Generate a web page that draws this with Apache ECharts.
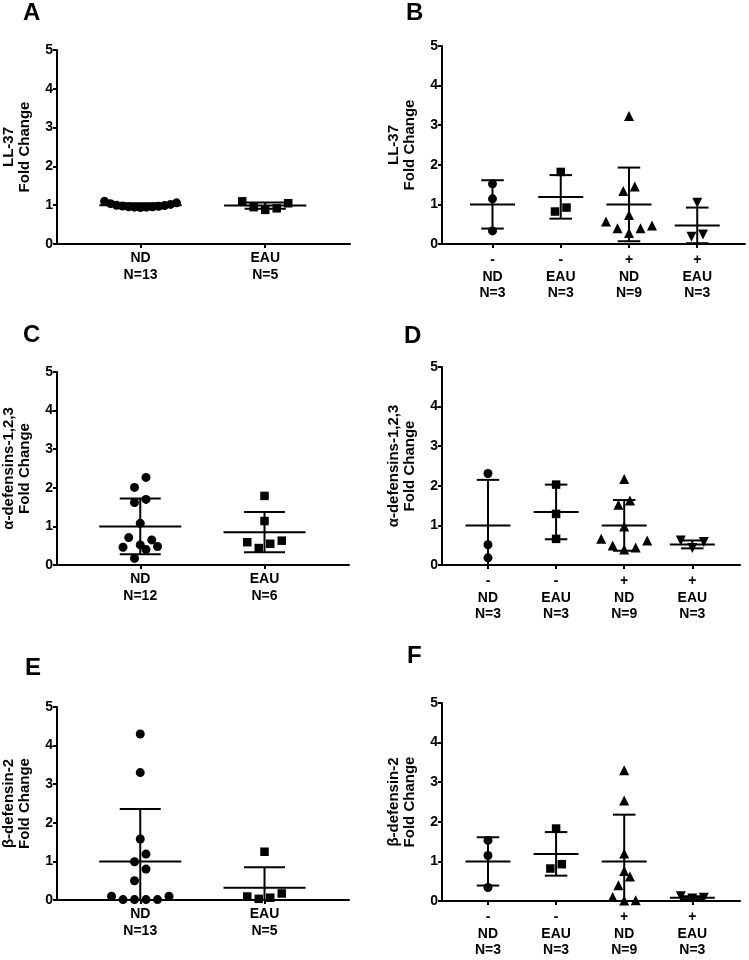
<!DOCTYPE html>
<html>
<head>
<meta charset="utf-8">
<script src="https://cdn.jsdelivr.net/npm/echarts@6/dist/echarts.min.js"></script>
<style>
html,body{margin:0;padding:0;background:#fff;}
#chart{width:749px;height:960px;}
</style>
</head>
<body>
<div id="chart"></div>
<script>
// ---------- DATA ----------
const labels2A = ['ND\nN=13', 'EAU\nN=5'];
const labels2C = ['ND\nN=12', 'EAU\nN=6'];
const labels2E = ['ND\nN=13', 'EAU\nN=5'];
const labels4 = ['-\nND\nN=3', '-\nEAU\nN=3', '+\nND\nN=9', '+\nEAU\nN=3'];

const titleA = 'LL-37\nFold Change';
const titleC = 'α-defensins-1,2,3\nFold Change';
const titleE = 'β-defensin-2\nFold Change';

// Panel A
const A_ND = [0.94, 0.95, 0.95, 0.96, 0.96, 0.97, 0.98, 0.99, 1.00, 1.02, 1.04, 1.06, 1.10];
const A_EAU = [1.10, 0.95, 0.88, 0.92, 1.05];
const A_mean = [1.00, 0.99];
const A_sd = [0.05, 0.08];

// Panel B
const B_NDneg = [1.52, 1.14, 0.33];
const B_EAUneg = [1.82, 0.82, 0.92];
const B_NDpos = [3.23, 1.45, 1.34, 0.73, 0.57, 0.40, 0.28, 0.40, 0.47];
const B_EAUpos = [1.04, 0.18, 0.24];
const B_mean = [1.00, 1.19, 1.00, 0.47];
const B_sd = [0.61, 0.55, 0.93, 0.45];

// Panel C
const C_ND = [2.27, 2.01, 1.70, 1.62, 1.08, 0.71, 0.46, 0.52, 0.48, 0.40, 0.65, 0.17];
const C_EAU = [1.79, 1.14, 0.59, 0.44, 0.55, 0.63];
const C_mean = [1.00, 0.85];
const C_sd = [0.72, 0.52];

// Panel D
const D_NDneg = [2.31, 0.51, 0.18];
const D_EAUneg = [2.03, 1.29, 0.66];
const D_NDpos = [2.17, 1.63, 1.52, 0.97, 0.66, 0.49, 0.39, 0.44, 0.62];
const D_EAUpos = [0.62, 0.43, 0.58];
const D_mean = [1.00, 1.34, 1.00, 0.52];
const D_sd = [1.15, 0.69, 0.64, 0.10];

// Panel E
const E_ND = [4.30, 3.30, 1.58, 1.19, 0.99, 0.80, 0.50, 0.10, 0.01, 0.01, 0.01, 0.01, 0.10];
const E_EAU = [1.25, 0.09, 0.03, 0.06, 0.17];
const E_mean = [1.00, 0.32];
const E_sd = [1.36, 0.53];

// Panel F
const F_NDneg = [1.53, 1.15, 0.34];
const F_EAUneg = [1.83, 0.82, 0.93];
const F_NDpos = [3.30, 2.54, 1.20, 0.76, 0.62, 0.40, 0.10, 0.01, 0.02];
const F_EAUpos = [0.12, 0.06, 0.08];
const F_mean = [1.00, 1.19, 1.00, 0.08];
const F_sd = [0.61, 0.55, 1.18, 0.04];

const yTicks = [0, 1, 2, 3, 4, 5];

// ---------- LAYOUT / STYLE ----------
const FONT = '"Liberation Sans", Arial, Helvetica, sans-serif';
const SYM2 = [['circle', 9, 0], ['rect', 8.5, 0]];
const SYM4 = [['circle', 9, 0], ['rect', 8.5, 0], ['triangle', 10, 0], ['triangle', 10, 180]];

const panels = [
  { letter: 'A', lx: 23, ly: 1,   grid: {left: 57,  top: 50,  width: 293, height: 194}, xmin: 0.33,  xmax: 2.68, labels: labels2A, title: titleA, groups: [A_ND, A_EAU], mean: A_mean, sd: A_sd, sym: SYM2, margin: 6 },
  { letter: 'B', lx: 406, ly: 1,  grid: {left: 442, top: 46,  width: 303, height: 198}, xmin: 0.26,  xmax: 4.70, labels: labels4, title: titleA, groups: [B_NDneg, B_EAUneg, B_NDpos, B_EAUpos], mean: B_mean, sd: B_sd, sym: SYM4, margin: 8 },
  { letter: 'C', lx: 23, ly: 323, grid: {left: 57,  top: 372, width: 292, height: 193}, xmin: 0.33,  xmax: 2.68, labels: labels2C, title: titleC, groups: [C_ND, C_EAU], mean: C_mean, sd: C_sd, sym: SYM2, margin: 6 },
  { letter: 'D', lx: 404, ly: 324,grid: {left: 442, top: 367, width: 298, height: 198}, xmin: 0.325, xmax: 4.70, labels: labels4, title: titleC, groups: [D_NDneg, D_EAUneg, D_NDpos, D_EAUpos], mean: D_mean, sd: D_sd, sym: SYM4, margin: 8 },
  { letter: 'E', lx: 25, ly: 656, grid: {left: 57,  top: 707, width: 292, height: 193}, xmin: 0.33,  xmax: 2.68, labels: labels2E, title: titleE, groups: [E_ND, E_EAU], mean: E_mean, sd: E_sd, sym: SYM2, margin: 6 },
  { letter: 'F', lx: 407, ly: 644,grid: {left: 442, top: 703, width: 298, height: 198}, xmin: 0.325, xmax: 4.70, labels: labels4, title: titleE, groups: [F_NDneg, F_EAUneg, F_NDpos, F_EAUpos], mean: F_mean, sd: F_sd, sym: SYM4, margin: 8 }
];

// column-scatter layout: points close in value share a row, spread symmetrically
function swarm(values, pxPerY, T, step0, maxHalf) {
  const idx = values.map((v, i) => i).sort((a, b) => values[a] - values[b]);
  const off = new Array(values.length).fill(0);
  const rows = [];
  let cur = [];
  for (const i of idx) {
    if (cur.length && (values[i] - values[cur[0]]) * pxPerY >= T) { rows.push(cur); cur = []; }
    cur.push(i);
  }
  if (cur.length) rows.push(cur);
  for (const row of rows) {
    const n = row.length, pos = [];
    if (n % 2 === 1) {
      pos.push(0);
      for (let k = 1; pos.length < n; k++) { pos.push(k); if (pos.length < n) pos.push(-k); }
    } else {
      for (let k = 0; pos.length < n; k++) { pos.push(-(k + 0.5)); pos.push(k + 0.5); }
    }
    let step = step0;
    const mx = Math.max(...pos.map(Math.abs));
    if (mx * step > maxHalf) step = maxHalf / mx;
    row.forEach((i, j) => { off[i] = pos[j] * step; });
  }
  return off;
}

function renderMeanSD(params, api) {
  const c = api.value(0), m = api.value(1), s = api.value(2);
  const hw = 0.33, cw = 0.165;
  const hi = m + s, loRaw = m - s, lo = Math.max(loRaw, 0);
  const st = { stroke: '#000', lineWidth: 2, fill: null };
  const line = (p1, p2) => ({ type: 'line', shape: { x1: p1[0], y1: p1[1], x2: p2[0], y2: p2[1] }, style: st });
  const ch = [
    line(api.coord([c - hw, m]), api.coord([c + hw, m])),
    line(api.coord([c, lo]), api.coord([c, hi])),
    line(api.coord([c - cw, hi]), api.coord([c + cw, hi]))
  ];
  if (loRaw >= 0) ch.push(line(api.coord([c - cw, loRaw]), api.coord([c + cw, loRaw])));
  return { type: 'group', children: ch };
}

const grids = [], xAxes = [], yAxes = [], series = [], graphics = [];
panels.forEach((p, pi) => {
  grids.push(Object.assign({ containLabel: false, outerBoundsMode: 'none' }, p.grid));
  const cats = p.groups.map((g, i) => i + 1);
  xAxes.push({
    type: 'value', gridIndex: pi, min: p.xmin, max: p.xmax,
    splitLine: { show: false },
    axisLine: { show: true, onZero: false, lineStyle: { color: '#000', width: 2 } },
    axisTick: { show: true, customValues: cats, length: 4, lineStyle: { color: '#000', width: 2 } },
    axisLabel: {
      show: true, customValues: cats, margin: p.margin,
      formatter: v => p.labels[Math.round(v) - 1],
      fontFamily: FONT, fontWeight: 'bold', fontSize: 14, color: '#000', lineHeight: 16.5
    }
  });
  yAxes.push({
    type: 'value', gridIndex: pi, min: 0, max: 5, interval: 1,
    splitLine: { show: false },
    axisLine: { show: true, onZero: false, lineStyle: { color: '#000', width: 2 } },
    axisTick: { show: true, length: 4, lineStyle: { color: '#000', width: 2 } },
    axisLabel: { fontFamily: FONT, fontWeight: 'bold', fontSize: 14, color: '#000', margin: 4,
      formatter: v => String(yTicks[Math.round(v)]) },
    name: p.title, nameLocation: 'middle', nameRotate: 90, nameGap: 24,
    nameTextStyle: { fontFamily: FONT, fontWeight: 'bold', fontSize: 15, color: '#000', lineHeight: 16 }
  });
  const pxPerY = p.grid.height / 5;
  const pxPerX = p.grid.width / (p.xmax - p.xmin);
  p.groups.forEach((vals, gi) => {
    const off = swarm(vals, pxPerY, 12.5, 11.5, 36);
    series.push({
      type: 'scatter', xAxisIndex: pi, yAxisIndex: pi, z: 5,
      symbol: p.sym[gi][0], symbolSize: p.sym[gi][1], symbolRotate: p.sym[gi][2],
      itemStyle: { color: '#000', opacity: 1 },
      silent: true, animation: false,
      data: vals.map((v, i) => [gi + 1 + off[i] / pxPerX, v])
    });
  });
  series.push({
    type: 'custom', xAxisIndex: pi, yAxisIndex: pi, z: 3, silent: true, animation: false,
    renderItem: renderMeanSD,
    data: p.mean.map((m, i) => [i + 1, m, p.sd[i]])
  });
  graphics.push({
    type: 'text', left: p.lx, top: p.ly,
    style: { text: p.letter, font: 'bold 24px ' + FONT, fill: '#000' }
  });
});

const chart = echarts.init(document.getElementById('chart'), null, { renderer: 'canvas' });
chart.setOption({
  backgroundColor: '#fff',
  animation: false,
  grid: grids, xAxis: xAxes, yAxis: yAxes, series: series, graphic: graphics
});
</script>
</body>
</html>
